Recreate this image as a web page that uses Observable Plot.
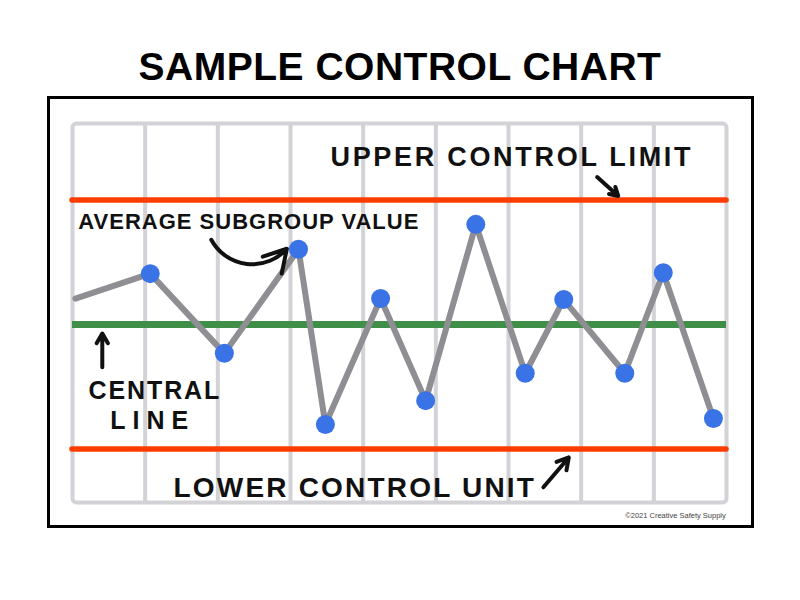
<!DOCTYPE html>
<html>
<head>
<meta charset="utf-8">
<script src="https://cdn.jsdelivr.net/npm/d3@7"></script>
<script src="https://cdn.jsdelivr.net/npm/@observablehq/plot@0.6"></script>
<style>
  html, body { margin: 0; padding: 0; background: #fff; }
  #title {
    width: 800px; height: 43px; padding-top: 47px;
    text-align: center; font-family: "Liberation Sans", Arial, sans-serif;
    font-weight: bold; font-size: 39px; line-height: 40px; color: #000;
    letter-spacing: 0.5px;
  }
  #chart svg { display: block; }
</style>
</head>
<body>
<div id="title">SAMPLE CONTROL CHART</div>
<div id="chart"></div>
<script>
// ---- data ----
const samplePos = [0.04, 1.07, 2.09, 3.11, 3.48, 4.24, 4.86, 5.55, 6.23, 6.76, 7.6, 8.13, 8.82];
const subgroupAvg = [55.2, 60.2, 44.2, 65.1, 29.9, 55.2, 34.7, 70.1, 40.2, 55.0, 40.2, 60.4, 31.1];
const hasMarker = [false, true, true, true, true, true, true, true, true, true, true, true, true];
const centralLine = 50;
const upperLimit = 75;
const lowerLimit = 25;
const columnEdges = [1, 2, 3, 4, 5, 6, 7, 8];
const labelText = ["UPPER CONTROL LIMIT", "AVERAGE SUBGROUP VALUE", "CENTRAL", "LINE", "LOWER CONTROL UNIT"];
const labelX = [3.55, 0.08, 0.22, 0.52, 1.39];
const labelY = [83.6, 70.5, 36.6, 30.6, 17.1];
const creditText = "©2021 Creative Safety Supply";

const samples = samplePos.map((x, i) => ({x, value: subgroupAvg[i], marker: hasMarker[i]}));
const labels = labelText.map((t, i) => ({text: t, x: labelX[i], y: labelY[i]}));

const font = "'Liberation Sans', Arial, sans-serif";
const ink = "#111";
const spacing = {"UPPER CONTROL LIMIT": 2.7, "AVERAGE SUBGROUP VALUE": 1, "CENTRAL": 1.9, "LINE": 7, "LOWER CONTROL UNIT": 2.2};

const chart = Plot.plot({
  width: 800,
  height: 510,
  marginLeft: 72,
  marginRight: 74,
  marginTop: 33,
  marginBottom: 98,
  x: {domain: [0, 9], axis: null},
  y: {domain: [14.25, 90.35], axis: null},
  marks: [
    // outer hand-drawn frame
    Plot.frame({stroke: "#000", strokeWidth: 3, insetLeft: -24, insetRight: -26, insetTop: -26, insetBottom: -24}),
    // grid columns
    Plot.ruleX(columnEdges, {stroke: "#d2d2d7", strokeWidth: 4}),
    Plot.frame({stroke: "#d2d2d7", strokeWidth: 4, rx: 4}),
    // control limits
    Plot.ruleY([upperLimit, lowerLimit], {stroke: "#ff3c00", strokeWidth: 5.5, strokeLinecap: "round"}),
    Plot.ruleY([centralLine], {stroke: "#3f8f48", strokeWidth: 7}),
    // series
    Plot.line(samples, {x: "x", y: "value", stroke: "#8e8e93", strokeWidth: 6, strokeLinejoin: "round"}),
    Plot.dot(samples.filter(d => d.marker), {x: "x", y: "value", r: 9.5, fill: "#3a73e5"}),
    // annotations
    Plot.text([labels[0]], {x: "x", y: "y", text: "text", textAnchor: "start", fontSize: 27, fontWeight: "bold", fontFamily: font, fill: ink}),
    Plot.text([labels[1]], {x: "x", y: "y", text: "text", textAnchor: "start", fontSize: 22, fontWeight: "bold", fontFamily: font, fill: ink}),
    Plot.text([labels[2], labels[3]], {x: "x", y: "y", text: "text", textAnchor: "start", fontSize: 25, fontWeight: "bold", fontFamily: font, fill: ink}),
    Plot.text([labels[4]], {x: "x", y: "y", text: "text", textAnchor: "start", fontSize: 28, fontWeight: "bold", fontFamily: font, fill: ink}),
    Plot.text([{x: 8.99, y: 11.6}], {x: "x", y: "y", text: () => creditText, textAnchor: "end", fontSize: 7.5, fontFamily: font, fill: "#444", textDecoration: "underline"}),
    // arrows
    Plot.arrow([{x1: 7.22, y1: 79.6, x2: 7.51, y2: 75.8}], {x1: "x1", y1: "y1", x2: "x2", y2: "y2", stroke: ink, strokeWidth: 4, headLength: 10}),
    Plot.arrow([{x1: 1.91, y1: 67.0, x2: 2.95, y2: 65.2}], {x1: "x1", y1: "y1", x2: "x2", y2: "y2", stroke: ink, strokeWidth: 4, headLength: 11, bend: -55}),
    Plot.arrow([{x1: 0.41, y1: 41.4, x2: 0.41, y2: 48.2}], {x1: "x1", y1: "y1", x2: "x2", y2: "y2", stroke: ink, strokeWidth: 4, headLength: 11}),
    Plot.arrow([{x1: 6.48, y1: 17.3, x2: 6.83, y2: 23.3}], {x1: "x1", y1: "y1", x2: "x2", y2: "y2", stroke: ink, strokeWidth: 4, headLength: 11})
  ]
});
d3.select(chart).selectAll("text").each(function() {
  const s = spacing[this.textContent];
  if (s !== undefined) this.setAttribute("letter-spacing", s);
});
document.getElementById("chart").appendChild(chart);
</script>
</body>
</html>
